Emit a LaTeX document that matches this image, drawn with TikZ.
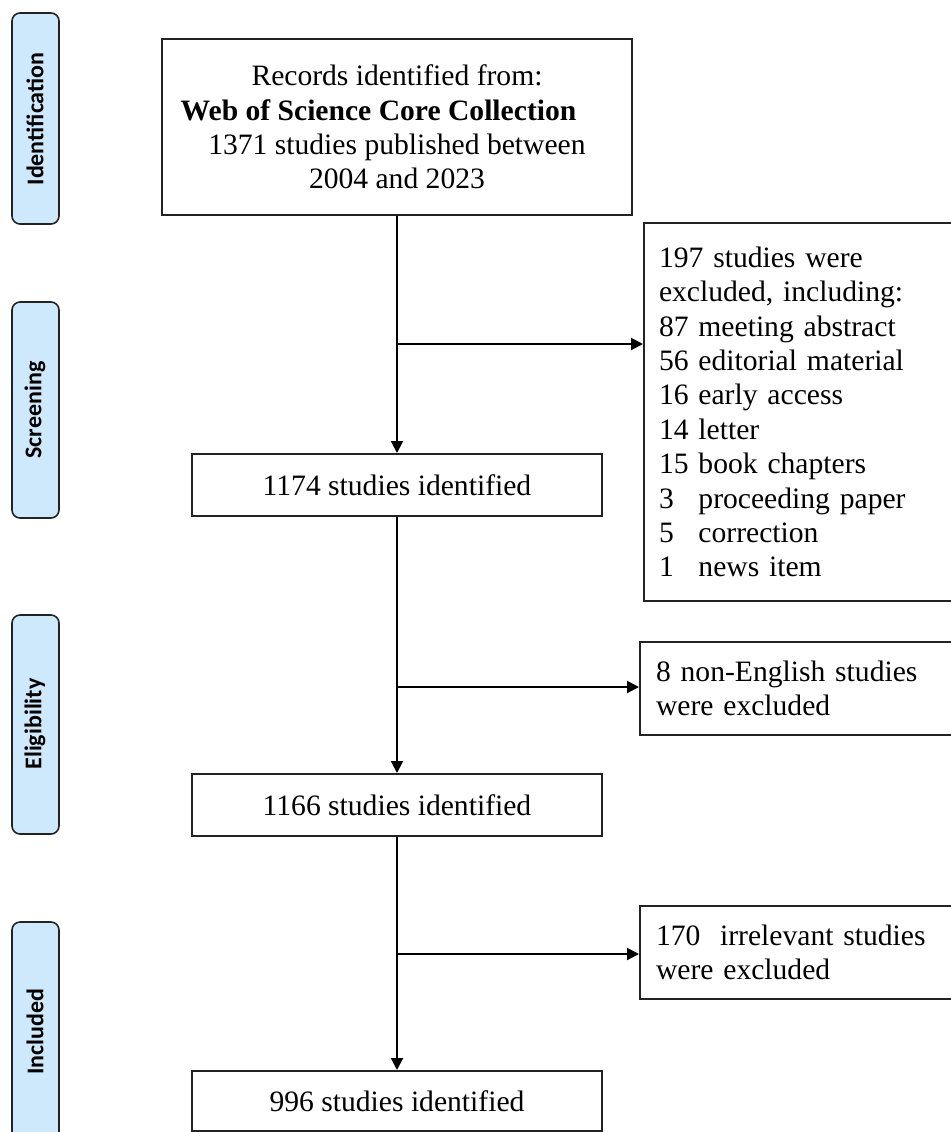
\documentclass[tikz,border=0pt]{standalone}
\usepackage{fontspec}
\setmainfont{Liberation Serif}
\newfontfamily\labelfont{Carlito}
\usetikzlibrary{arrows.meta}
\definecolor{phaseblue}{RGB}{207,233,252}
\definecolor{edgegray}{RGB}{35,35,35}
\begin{document}
\begin{tikzpicture}[x=0.5pt,y=-0.5pt,
  txt/.style={font=\fontsize{14.8}{17.2}\selectfont},
  mainbox/.style={txt, draw=edgegray, line width=1pt, inner sep=0pt, align=center, minimum width=205pt},
  sidebox/.style={txt, draw=edgegray, line width=1pt, inner ysep=0pt, anchor=north west, align=left},
  phase/.style={fill=phaseblue, draw=edgegray, line width=0.8pt, rounded corners=4pt},
  phaselabel/.style={rotate=90, font=\labelfont\bfseries\fontsize{12}{14}\selectfont, inner sep=0pt},
  conn/.style={line width=1pt, draw=black, -{Triangle[length=6pt,width=6pt]}}
]
\clip (0,0) rectangle (951,1132);
\useasboundingbox (0,0) rectangle (951,1132);

% phase labels
\draw[phase] (12,13) rectangle (59,224);
\node[phaselabel] (pid) at (35,119) {Identification};
\draw[phase] (12,302) rectangle (59,518);
\node[phaselabel] (pscr) at (35,410) {Screening};
\draw[phase] (12,615) rectangle (59,834);
\node[phaselabel] (pel) at (35,724) {Eligibility};
\draw[phase] (12,922) rectangle (59,1160);
\node[phaselabel] (pinc) at (35,1032) {Included};

% main column
\node[mainbox, minimum width=235pt, minimum height=88pt] (rec) at (397,127)
  {Records identified from:\\
   \textbf{Web of Science Core Collection}\rule{18.5pt}{0pt}\\
   1371 studies published between\\
   2004 and 2023};
\node[mainbox, minimum height=31pt] (s1) at (397,485) {1174 studies identified};
\node[mainbox, minimum height=31pt] (s2) at (397,805) {1166 studies identified};
\node[mainbox, minimum height=30pt] (s3) at (397,1101) {996 studies identified};

% exclusion boxes
\node[sidebox, inner xsep=7.5pt, text width=148pt, minimum height=189pt] (ex1) at (643,222)
  {197 studies were\\
   excluded, including:\\
   87 meeting abstract\\
   56 editorial material\\
   16 early access\\
   14 letter\\
   15 book chapters\\
   \makebox[1em][l]{3} proceeding paper\\
   \makebox[1em][l]{5} correction\\
   \makebox[1em][l]{1} news item};
\node[sidebox, inner xsep=8pt, text width=150pt, minimum height=46.5pt] (ex2) at (639,641)
  {8 non-English studies\\were excluded};
\node[sidebox, inner xsep=8pt, text width=150pt, minimum height=46.5pt] (ex3) at (639,905)
  {170\ \ irrelevant studies\\were excluded};

% connectors
\draw[conn] (rec.south) -- (s1.north);
\draw[conn] (s1.south) -- (s2.north);
\draw[conn] (s2.south) -- (s3.north);
\coordinate (b1) at (397,344);
\coordinate (b2) at (397,687);
\coordinate (b3) at (397,954);
\draw[conn] (b1) -- (b1 -| ex1.west);
\draw[conn] (b2) -- (b2 -| ex2.west);
\draw[conn] (b3) -- (b3 -| ex3.west);
\end{tikzpicture}
\end{document}
